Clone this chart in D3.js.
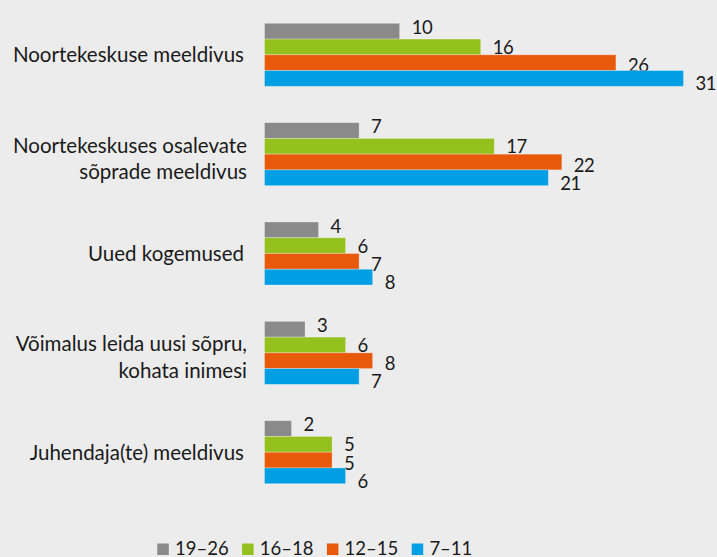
<!DOCTYPE html>
<html>
<head>
<meta charset="utf-8">
<script src="https://cdn.jsdelivr.net/npm/d3@7"></script>
<style>
  html, body { margin: 0; padding: 0; background: #ececec; }
  svg { display: block; }
  text { font-family: Lato, "Open Sans", "DejaVu Sans", sans-serif; fill: #1a1a1a; }
</style>
</head>
<body>
<svg id="chart" width="717" height="557"></svg>
<script>
// Reasons for attending the youth centre, share of respondents (%) by age group
const categories = [
  ["Noortekeskuse meeldivus"],
  ["Noortekeskuses osalevate", "sõprade meeldivus"],
  ["Uued kogemused"],
  ["Võimalus leida uusi sõpru,", "kohata inimesi"],
  ["Juhendaja(te) meeldivus"]
];
const ageGroups = ["19–26", "16–18", "12–15", "7–11"];
const values19to26 = [10, 7, 4, 3, 2];
const values16to18 = [16, 17, 6, 6, 5];
const values12to15 = [26, 22, 7, 8, 5];
const values7to11  = [31, 21, 8, 7, 6];
const seriesValues = [values19to26, values16to18, values12to15, values7to11];
const colors = ["#8a8a8a", "#95c11f", "#e8590c", "#009fe3"];

const svg = d3.select("#chart");

const x = d3.scaleLinear().domain([0, 31]).range([264.5, 683.5]);
const y = d3.scaleBand()
  .domain(d3.range(categories.length))
  .range([23.3, 483.7])
  .paddingInner(0.366)
  .paddingOuter(0);
const ySub = d3.scaleBand()
  .domain(d3.range(ageGroups.length))
  .range([0, y.bandwidth()]);

// value labels fan out slightly more than the bars they belong to
const labelBaselines = [10.6, 30.7, 49.1, 67];

const groups = svg.selectAll("g.group")
  .data(categories)
  .join("g")
  .attr("class", "group")
  .attr("transform", (d, i) => `translate(0,${y(i)})`);

groups.each(function(cat, ci) {
  const g = d3.select(this);
  ageGroups.forEach((ag, si) => {
    const v = seriesValues[si][ci];
    g.append("rect")
      .attr("x", x(0))
      .attr("y", ySub(si))
      .attr("width", x(v) - x(0))
      .attr("height", ySub.bandwidth())
      .attr("fill", colors[si])
      .attr("stroke", "rgba(255,255,255,0.35)")
      .attr("stroke-width", 0.8);
    g.append("text")
      .attr("x", x(v) + 12)
      .attr("y", labelBaselines[si])
      .attr("font-size", 18.5)
      .attr("letter-spacing", -0.5)
      .text(v);
  });

  // category label, right-aligned against the bars
  const center = y.bandwidth() / 2;
  const t = g.append("text")
    .attr("text-anchor", "end")
    .attr("font-size", 20.5);
  if (cat.length === 1) {
    t.append("tspan").attr("x", 244).attr("y", center + 7.5).text(cat[0]);
  } else {
    cat.forEach((ln, li) => {
      t.append("tspan").attr("x", 247).attr("y", center - 1.5 + li * 26.5).text(ln);
    });
  }
});

// legend
const legend = svg.append("g").attr("transform", "translate(157.3,543.5)");
ageGroups.forEach((ag, i) => {
  const lg = legend.append("g").attr("transform", `translate(${i * 84.8},0)`);
  lg.append("rect").attr("width", 11.5).attr("height", 11.5).attr("fill", colors[i]);
  lg.append("text").attr("x", 17.7).attr("y", 11.5).attr("font-size", 18.5).text(ag);
});
</script>
</body>
</html>
